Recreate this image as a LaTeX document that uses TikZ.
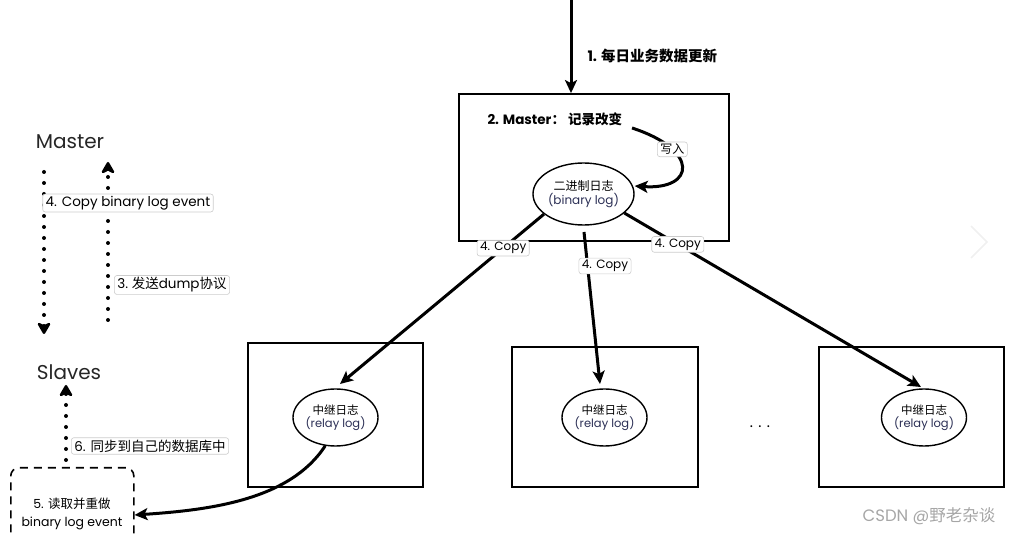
\documentclass[tikz,border=0pt]{standalone}
\usepackage{fontspec}
\setmainfont{Poppins}
\newfontfamily\cjk{Noto Sans CJK SC}
\usetikzlibrary{arrows.meta,shapes.geometric}
\definecolor{navy}{HTML}{2B2F55}
\tikzset{
  box/.style={draw=black,line width=1.8pt,inner sep=0pt},
  logell/.style={draw=black,ellipse,line width=1.4pt,inner sep=0pt,align=center},
  flow/.style={line width=3pt,-{Stealth[length=13pt,width=12pt,inset=3pt]}},
  dotflow/.style={line width=4pt,line cap=round,dash pattern=on 0pt off 11pt,-{Stealth[length=14pt,width=16pt,inset=4pt,round]}},
  elabel/.style={fill=white,draw=gray!40,rounded corners=2.5pt,line width=0.6pt,inner xsep=3pt,inner ysep=2pt,font=\fontsize{12}{14}\selectfont},
  leglabel/.style={elabel,font=\fontsize{13.5}{16}\selectfont},
  biglabel/.style={font=\fontsize{20}{24}\selectfont,text=black!85},
}
\begin{document}
\begin{tikzpicture}[x=1pt,y=-1pt]
\useasboundingbox (0,0) rectangle (1013,534);
\begin{scope}
\clip (0,0) rectangle (1013,534);
% master box
\node[box,minimum width=270pt,minimum height=147pt] (mbox) at (594,167.5) {};
\coordinate (topsrc) at (571,0);
\draw[flow] (topsrc) -- (mbox.north -| topsrc);
\node[anchor=west,font=\fontsize{14.5}{17}\selectfont\bfseries] (upd) at (584,56) {1. {\cjk\bfseries 每日业务数据更新}};
\node[anchor=west,font=\fontsize{13.5}{16}\selectfont\bfseries] (rec) at (484,119) {2. Master{\cjk\bfseries ： 记录改变}};
% binary log
\node[logell,minimum width=101pt,minimum height=62pt,font=\fontsize{12}{15}\selectfont] (bin) at (583.5,194) {{\cjk 二进制日志}\\[-1pt]\textcolor{navy}{(binary log)}};
\coordinate (recend) at (632,128);
\draw[line width=3pt,-{Stealth[length=13pt,width=12pt,inset=3pt]}] (recend) .. controls (700,150) and (695,190) .. (bin.east |- 0,186) node[pos=0.28,elabel,font=\cjk\fontsize{12}{14}\selectfont] (xr) {写入};
% slave boxes
\node[box,minimum width=175pt,minimum height=144pt] (s1) at (335.5,415) {};
\node[box,minimum width=186pt,minimum height=140pt] (s2) at (605,417) {};
\node[box,minimum width=185pt,minimum height=140pt] (s3) at (911.5,417) {};
\node[logell,minimum width=85pt,minimum height=57pt,font=\fontsize{11.5}{14}\selectfont] (r1) at (335.5,417.5) {{\cjk 中继日志}\\[-1pt]\textcolor{navy}{(relay log)}};
\node[logell,minimum width=85pt,minimum height=57pt,font=\fontsize{11.5}{14}\selectfont] (r2) at (604.5,417.5) {{\cjk 中继日志}\\[-1pt]\textcolor{navy}{(relay log)}};
\node[logell,minimum width=85pt,minimum height=57pt,font=\fontsize{11.5}{14}\selectfont] (r3) at (924,417.5) {{\cjk 中继日志}\\[-1pt]\textcolor{navy}{(relay log)}};
\node[font=\fontsize{15}{16}\selectfont] (dots) at (760,427) {. . .};
% copy arrows
\coordinate (c2s) at (584,232);
\draw[flow] (bin.207) -- (340,384) node[pos=0.2,elabel] (cp1) {4. Copy};
\draw[flow] (c2s) -- (600,384);
\node[elabel] (cp2) at (605,266) {4. Copy};
\draw[flow] (bin.-25) -- (921,387) node[pos=0.18,elabel] (cp3) {4. Copy};
% left legend
\node[biglabel] (mlab) at (70,142) {Master};
\node[biglabel] (slab) at (69,372) {Slaves};
\coordinate (d1a) at (44,172);
\coordinate (d1b) at (44,334);
\coordinate (u1a) at (108,320);
\coordinate (u1b) at (108,162);
\draw[dotflow] (d1a) -- (d1b);
\draw[dotflow] (u1a) -- (u1b);
\node[leglabel] (l4) at (128,203) {4. Copy binary log event};
\node[leglabel] (l3) at (172,285) {3.\ {\cjk 发送}dump{\cjk 协议}};
% dashed box
\node[draw,dashed,dash pattern=on 8pt off 6pt,line width=1.6pt,rounded corners=8pt,minimum width=123pt,minimum height=80pt,anchor=north west,inner sep=0pt] (dbox) at (10,467) {};
\node[align=center,font=\fontsize{12.5}{18}\selectfont] (dtxt) at (72,514) {5. {\cjk 读取并重做}\\binary log event};
\coordinate (u2a) at (66,460);
\coordinate (u2b) at (66,385);
\draw[dotflow] (u2a) -- (u2b);
\node[leglabel] (l6) at (150,446) {6. {\cjk 同步到自己的数据库中}};
% bottom curve
\draw[line width=3pt,-{Stealth[length=13pt,width=12pt,inset=3pt]}] (r1.250) .. controls (290,500) and (210,510) .. (dbox.east |- 0,515);
% watermark and chevron
\node[text=gray!70,font=\fontsize{16.5}{18}\selectfont] (wm) at (929,516) {CSDN @{\cjk 野老杂谈}};
\draw[gray!12,line width=1.5pt] (971,226) -- (987,242) -- (971,258);
\end{scope}
\end{tikzpicture}
\end{document}
